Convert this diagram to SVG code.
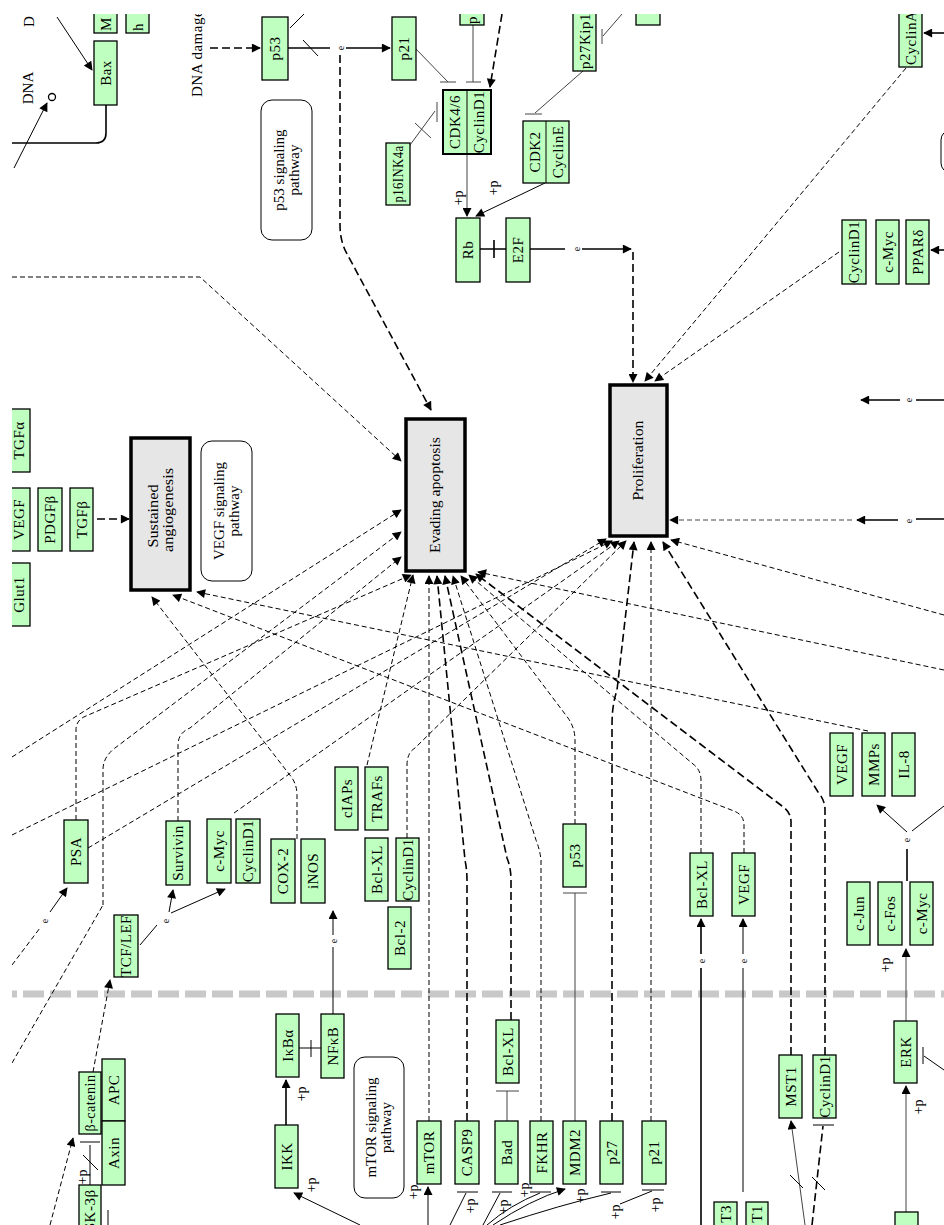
<svg xmlns="http://www.w3.org/2000/svg" width="944" height="1225" viewBox="0 0 944 1225">
<defs>
<style>
text{font-family:"Liberation Serif","DejaVu Serif",serif;font-size:15px;fill:#000}
.n text{letter-spacing:0.5px}
.n rect{fill:#bfffbf;stroke:#000;stroke-width:1.3}
.n line{stroke:#000;stroke-width:1}
.m{text-anchor:middle;dominant-baseline:central}
.st{dominant-baseline:central}
.en{text-anchor:end;dominant-baseline:central}
.p rect{fill:#e6e6e6;stroke:#000;stroke-width:3.5}
.p text{font-size:14px}
.r rect{fill:#fff;stroke:#000;stroke-width:1}
.c path{fill:none;stroke:#000;stroke-width:1}
.c .t{stroke-dasharray:5 3}
.c .k{stroke-dasharray:8 4;stroke-width:1.6}
.c .w{stroke-width:1.6}
.c .g{stroke:#444}
.lb{font-size:14px;text-anchor:middle;dominant-baseline:central}
.e{font-size:10px;text-anchor:middle;dominant-baseline:central}
</style>
<marker id="a" viewBox="0 0 10 10" refX="9" refY="5" markerWidth="10" markerHeight="9" markerUnits="userSpaceOnUse" orient="auto"><path d="M0,0L10,5L0,10z" fill="#000"/></marker>
<clipPath id="cp"><rect x="12" y="14" width="932" height="1211"/></clipPath>
</defs>
<rect width="944" height="1225" fill="#fff"/>
<g clip-path="url(#cp)">

<!-- separator -->
<path d="M12,994H944" stroke="#c8c8c8" stroke-width="7" stroke-dasharray="21 6" stroke-dashoffset="16" fill="none"/>

<!-- connectors -->
<g id="connectors" class="c">
<path d="M57,17L92,70" marker-end="url(#a)"/>
<path class="w" d="M106,105V133Q106,143 96,143H12"/>
<path d="M14,168L47,103" marker-end="url(#a)"/>
<path class="k" d="M210,48H260" marker-end="url(#a)"/>
<path class="w" d="M288,48H330"/>
<path d="M303,40L318,56M290,28L304,14"/>
<path class="w" d="M346,48H390" marker-end="url(#a)"/>
<path class="k" d="M340,55V225Q340,240 346,252L431,410" marker-end="url(#a)"/>
<path class="g" d="M415,48L448,82M440,82H456"/>
<path class="g" d="M473,25V82M466,82H481"/>
<path class="k" d="M502,14L490,87" marker-end="url(#a)"/>
<path class="g" d="M410,145L435,111M437,102V122M415,123L431,138"/>
<path class="g" d="M583,71L535,113M525,114H542"/>
<path class="g" d="M622,14L603,36M602,29V44"/>
<path class="g" d="M467,154V216" marker-end="url(#a)"/>
<path d="M545,183L476,216" marker-end="url(#a)"/>
<path class="w" d="M480,249H506M494,240V258"/>
<path class="w" d="M530,249H565"/>
<path class="w" d="M582,249H631" marker-end="url(#a)"/>
<path class="k" d="M633,252V382" marker-end="url(#a)"/>
<path class="t" d="M906,68L645,381" marker-end="url(#a)"/>
<path class="t" d="M839,252L655,381" marker-end="url(#a)"/>
<path class="w" d="M944,33H924" marker-end="url(#a)"/>
<path class="w" d="M944,250H931" marker-end="url(#a)"/>
<path class="w" d="M944,400H916M900,400H861" marker-end="url(#a)"/>
<path class="w" d="M944,519H916M898,520H857" marker-end="url(#a)"/>
<path class="t g" d="M852,520H670" marker-end="url(#a)"/>
<!-- angiogenesis -->
<path class="k" d="M97,519H129" marker-end="url(#a)"/>
<path class="t" d="M297,839V795Q297,783 289,774L152,597" marker-end="url(#a)"/>
<path class="t" d="M744,853V825Q744,815 734,811L173,595" marker-end="url(#a)"/>
<path class="t" d="M868,731L197,592" marker-end="url(#a)"/>
<!-- evading apoptosis -->
<path class="t" d="M12,277H200L401,461" marker-end="url(#a)"/>
<path class="t" d="M12,757L401,510" marker-end="url(#a)"/>
<path class="t" d="M103,905V770Q103,757 115,748L401,532" marker-end="url(#a)"/>
<path class="t" d="M12,1063L103,905"/>
<path class="t" d="M178,821V745Q178,733 190,728L401,557" marker-end="url(#a)"/>
<path class="t" d="M76,820V730Q76,720 86,716L411,575" marker-end="url(#a)"/>
<path class="t" d="M367,765L413,575" marker-end="url(#a)"/>
<path class="t" d="M429,1121V576" marker-end="url(#a)"/>
<path class="k" d="M467,1121V880Q467,870 465,860L437,576" marker-end="url(#a)"/>
<path class="k" d="M511,1020V880Q511,868 507,858L445,576" marker-end="url(#a)"/>
<path class="t" d="M541,1121V860Q540,850 536,840L453,576" marker-end="url(#a)"/>
<path class="t" d="M575,824V740Q575,728 568,718L461,576" marker-end="url(#a)"/>
<path class="t" d="M701,853V780Q701,770 693,764L469,575" marker-end="url(#a)"/>
<path class="k" d="M791,1055V822Q791,812 782,806L476,574" marker-end="url(#a)"/>
<path class="t" d="M944,670L478,572" marker-end="url(#a)"/>
<path class="g" d="M575,1121V893M563,893H587"/>
<path class="g" d="M507,1121V1091M496,1091H519"/>
<!-- proliferation -->
<path class="t" d="M88,848L606,539" marker-end="url(#a)"/>
<path class="t" d="M12,835L612,541" marker-end="url(#a)"/>
<path class="t" d="M234,813L619,541" marker-end="url(#a)"/>
<path class="t" d="M407,838V765Q407,753 415,748L626,541" marker-end="url(#a)"/>
<path class="k" d="M612,1121V725Q612,705 617,690L634,542" marker-end="url(#a)"/>
<path class="t" d="M651,1121V542" marker-end="url(#a)"/>
<path class="k" d="M825,1055V810Q825,800 818,792L663,542" marker-end="url(#a)"/>
<path class="t" d="M944,615L671,540" marker-end="url(#a)"/>
<!-- lower right -->
<path d="M907,832L877,805" marker-end="url(#a)"/>
<path d="M912,831L944,806"/>
<path class="w" d="M907,849V881"/>
<path class="g" d="M906,1021V949" marker-end="url(#a)"/>
<path class="g" d="M906,1212V1086" marker-end="url(#a)"/>
<path d="M923,1047V1064M924,1056L944,1070"/>
<path class="g" d="M805,1225L791,1121" marker-end="url(#a)"/>
<path d="M790,1175L803,1188"/>
<path class="k" d="M812,1225L823,1126"/>
<path d="M813,1125H834M812,1177L825,1190"/>
<path class="w" d="M701,1225V968M701,954V919" marker-end="url(#a)"/>
<path d="M743,1192V968M743,954V919" marker-end="url(#a)"/>
<path d="M620,1204L652,1191M642,1190H664"/>
<!-- lower left -->
<path d="M428,1225V1187" marker-end="url(#a)"/>
<path d="M450,1225L466,1193M457,1192H478"/>
<path d="M483,1225L500,1193M492,1192H512"/>
<path d="M487,1225Q510,1205 540,1193M530,1192H551"/>
<path d="M493,1225Q530,1200 565,1189" marker-end="url(#a)"/>
<path d="M500,1225Q560,1205 611,1193M601,1192H621"/>
<path d="M360,1225L294,1193" marker-end="url(#a)"/>
<path class="w" d="M286,1125V1080" marker-end="url(#a)"/>
<path d="M299,1048H321M311,1040V1057"/>
<path d="M333,1014V947M333,935V911" marker-end="url(#a)"/>
<path class="t" d="M93,1072L110,980" marker-end="url(#a)"/>
<path d="M140,945L157,925"/>
<path d="M169,912L173,890" marker-end="url(#a)"/>
<path d="M171,913L225,889" marker-end="url(#a)"/>
<path class="t" d="M12,965L40,928"/>
<path d="M50,912L67,888" marker-end="url(#a)"/>
<path class="t" d="M50,1225L73,1138" marker-end="url(#a)"/>
<path d="M90,1185V1145M80,1142H100M83,1155L98,1170"/>
<path d="M108,1210V1225"/>
</g>

<!-- labels -->
<g id="labels">
<text x="29" y="27" class="st" transform="rotate(-90 29 27)">D</text>
<text x="28" y="88" class="m" transform="rotate(-90 28 88)">DNA</text>
<circle cx="52" cy="97" r="3.5" fill="none" stroke="#000" stroke-width="1.3"/>
<text x="197" y="97" class="st" transform="rotate(-90 197 97)" style="letter-spacing:0.5px">DNA damage</text>
<text x="340" y="48" class="e" transform="rotate(-90 340 48)">e</text>
<text x="576" y="249" class="e" transform="rotate(-90 576 249)">e</text>
<text x="908" y="400" class="e" transform="rotate(-90 908 400)">e</text>
<text x="908" y="521" class="e" transform="rotate(-90 908 521)">e</text>
<text x="906" y="840" class="e" transform="rotate(-90 906 840)">e</text>
<text x="701" y="961" class="e" transform="rotate(-90 701 961)">e</text>
<text x="743" y="961" class="e" transform="rotate(-90 743 961)">e</text>
<text x="333" y="941" class="e" transform="rotate(-90 333 941)">e</text>
<text x="165" y="921" class="e" transform="rotate(-90 165 921)">e</text>
<text x="44" y="921" class="e" transform="rotate(-90 44 921)">e</text>
<text x="458" y="198" class="lb" transform="rotate(-90 458 198)">+p</text>
<text x="493" y="188" class="lb" transform="rotate(-90 493 188)">+p</text>
<text x="885" y="965" class="lb" transform="rotate(-90 885 965)">+p</text>
<text x="918" y="1107" class="lb" transform="rotate(-90 918 1107)">+p</text>
<text x="655" y="1205" class="lb" transform="rotate(-90 655 1205)">+p</text>
<text x="301" y="1094" class="lb" transform="rotate(-90 301 1094)">+p</text>
<text x="311" y="1185" class="lb" transform="rotate(-90 311 1185)">+p</text>
<text x="413" y="1192" class="lb" transform="rotate(-90 413 1192)">+p</text>
<text x="470" y="1206" class="lb" transform="rotate(-90 470 1206)">+p</text>
<text x="503" y="1207" class="lb" transform="rotate(-90 503 1207)">+p</text>
<text x="524" y="1190" class="lb" transform="rotate(-90 524 1190)">+p</text>
<text x="580" y="1196" class="lb" transform="rotate(-90 580 1196)">+p</text>
<text x="615" y="1212" class="lb" transform="rotate(-90 615 1212)">+p</text>
<text x="82" y="1177" class="lb" transform="rotate(-90 82 1177)">+p</text>
</g>

<!-- process boxes -->
<g id="evading" class="p"><rect x="406" y="419" width="59" height="152"/><text x="435.5" y="495" class="m" transform="rotate(-90 435.5 495)" textLength="116" lengthAdjust="spacingAndGlyphs">Evading apoptosis</text></g>
<g id="prolif" class="p"><rect x="610" y="385" width="57" height="151"/><text x="638.5" y="460.5" class="m" transform="rotate(-90 638.5 460.5)" textLength="80" lengthAdjust="spacingAndGlyphs">Proliferation</text></g>
<g id="angio" class="p"><rect x="131" y="438" width="59" height="152"/><text x="153" y="516" class="m" transform="rotate(-90 153 516)" textLength="63" lengthAdjust="spacingAndGlyphs">Sustained</text><text x="168" y="510" class="m" transform="rotate(-90 168 510)" textLength="84" lengthAdjust="spacingAndGlyphs">angiogenesis</text></g>

<g id="p53path" class="r"><rect x="261" y="100" width="51" height="140" rx="11"/><text x="279" y="170" class="m" transform="rotate(-90 279 170)">p53 signaling</text><text x="294" y="170" class="m" transform="rotate(-90 294 170)">pathway</text></g>
<g id="vegfpath" class="r"><rect x="201" y="441" width="51" height="140" rx="11"/><text x="219" y="511" class="m" transform="rotate(-90 219 511)">VEGF signaling</text><text x="234" y="511" class="m" transform="rotate(-90 234 511)">pathway</text></g>
<g id="mtorpath" class="r"><rect x="354" y="1057" width="50" height="141" rx="11"/><text x="371" y="1127.5" class="m" transform="rotate(-90 371 1127.5)">mTOR signaling</text><text x="386" y="1127.5" class="m" transform="rotate(-90 386 1127.5)">pathway</text></g>
<g id="rpart" class="r"><rect x="941" y="130" width="30" height="43" rx="10"/></g>

<!-- gene nodes -->
<g id="n_m" class="n"><rect x="94" y="5" width="23" height="28"/><text x="105.5" y="31" class="st" transform="rotate(-90 105.5 31)">M</text></g>
<g id="n_h" class="n"><rect x="126" y="5" width="23" height="28"/><text x="137.5" y="31" class="st" transform="rotate(-90 137.5 31)">h</text></g>
<g id="n_bax" class="n"><rect x="94" y="41" width="23" height="64"/><text x="105.5" y="73" class="m" transform="rotate(-90 105.5 73)">Bax</text></g>
<g id="n_p53a" class="n"><rect x="262" y="17" width="26" height="63"/><text x="275" y="48.5" class="m" transform="rotate(-90 275 48.5)">p53</text></g>
<g id="n_p21a" class="n"><rect x="392" y="17" width="24" height="63"/><text x="404" y="48.5" class="m" transform="rotate(-90 404 48.5)">p21</text></g>
<g id="n_ptop" class="n"><rect x="460" y="5" width="24" height="20"/><text x="472" y="24" class="st" transform="rotate(-90 472 24)">p</text></g>
<g id="n_cdk46" class="n"><rect x="443" y="90" width="48" height="64" style="stroke-width:2"/><line x1="467" y1="90" x2="467" y2="154"/><text x="455" y="122" class="m" transform="rotate(-90 455 122)">CDK4/6</text><text x="479" y="122" class="m" transform="rotate(-90 479 122)">CyclinD1</text></g>
<g id="n_p16" class="n"><rect x="386" y="143" width="24" height="62"/><text x="398" y="174" class="m" transform="rotate(-90 398 174)" textLength="57" lengthAdjust="spacingAndGlyphs">p16INK4a</text></g>
<g id="n_cdk2" class="n"><rect x="523" y="121" width="46" height="62"/><line x1="546" y1="121" x2="546" y2="183"/><text x="534.5" y="152" class="m" transform="rotate(-90 534.5 152)">CDK2</text><text x="557.5" y="152" class="m" transform="rotate(-90 557.5 152)">CyclinE</text></g>
<g id="n_p27kip" class="n"><rect x="573" y="-5" width="23" height="76"/><text x="584.5" y="69" class="st" transform="rotate(-90 584.5 69)">p27Kip1</text></g>
<g id="n_tr" class="n"><rect x="636" y="5" width="24" height="20"/></g>
<g id="n_rb" class="n"><rect x="456" y="218" width="24" height="64"/><text x="468" y="250" class="m" transform="rotate(-90 468 250)">Rb</text></g>
<g id="n_e2f" class="n"><rect x="506" y="218" width="24" height="64"/><text x="518" y="250" class="m" transform="rotate(-90 518 250)">E2F</text></g>
<g id="n_cyca" class="n"><rect x="899" y="-5" width="23" height="72"/><text x="910.5" y="65" class="st" transform="rotate(-90 910.5 65)">CyclinA</text></g>
<g id="n_cycd1r" class="n"><rect x="842" y="220" width="24" height="64"/><text x="854" y="252" class="m" transform="rotate(-90 854 252)">CyclinD1</text></g>
<g id="n_cmycr" class="n"><rect x="876" y="220" width="23" height="64"/><text x="887.5" y="252" class="m" transform="rotate(-90 887.5 252)">c-Myc</text></g>
<g id="n_ppar" class="n"><rect x="906" y="220" width="23" height="64"/><text x="917.5" y="252" class="m" transform="rotate(-90 917.5 252)">PPARδ</text></g>
<g id="n_tgfa" class="n"><rect x="8" y="409" width="22" height="63"/><text x="19" y="440.5" class="m" transform="rotate(-90 19 440.5)">TGFα</text></g>
<g id="n_vegfl" class="n"><rect x="8" y="488" width="22" height="63"/><text x="19" y="519.5" class="m" transform="rotate(-90 19 519.5)">VEGF</text></g>
<g id="n_pdgfb" class="n"><rect x="38" y="488" width="24" height="63"/><text x="50" y="519.5" class="m" transform="rotate(-90 50 519.5)">PDGFβ</text></g>
<g id="n_tgfb" class="n"><rect x="70" y="488" width="23" height="63"/><text x="81.5" y="519.5" class="m" transform="rotate(-90 81.5 519.5)">TGFβ</text></g>
<g id="n_glut1" class="n"><rect x="8" y="563" width="22" height="63"/><text x="19" y="594.5" class="m" transform="rotate(-90 19 594.5)">Glut1</text></g>
<g id="n_psa" class="n"><rect x="64" y="820" width="24" height="63"/><text x="76" y="851.5" class="m" transform="rotate(-90 76 851.5)">PSA</text></g>
<g id="n_surv" class="n"><rect x="166" y="821" width="24" height="64"/><text x="178" y="853" class="m" transform="rotate(-90 178 853)">Survivin</text></g>
<g id="n_cmyc1" class="n"><rect x="207" y="819" width="24" height="64"/><text x="219" y="851" class="m" transform="rotate(-90 219 851)">c-Myc</text></g>
<g id="n_cycd1a" class="n"><rect x="236" y="819" width="24" height="64"/><text x="248" y="851" class="m" transform="rotate(-90 248 851)">CyclinD1</text></g>
<g id="n_cox2" class="n"><rect x="271" y="839" width="24" height="64"/><text x="283" y="871" class="m" transform="rotate(-90 283 871)">COX-2</text></g>
<g id="n_inos" class="n"><rect x="301" y="839" width="24" height="64"/><text x="313" y="871" class="m" transform="rotate(-90 313 871)">iNOS</text></g>
<g id="n_ciaps" class="n"><rect x="335" y="767" width="23" height="63"/><text x="346.5" y="798.5" class="m" transform="rotate(-90 346.5 798.5)">cIAPs</text></g>
<g id="n_trafs" class="n"><rect x="365" y="767" width="23" height="63"/><text x="376.5" y="798.5" class="m" transform="rotate(-90 376.5 798.5)">TRAFs</text></g>
<g id="n_bclxl1" class="n"><rect x="365" y="838" width="23" height="63"/><text x="376.5" y="869.5" class="m" transform="rotate(-90 376.5 869.5)">Bcl-XL</text></g>
<g id="n_cycd1b" class="n"><rect x="396" y="838" width="23" height="63"/><text x="407.5" y="869.5" class="m" transform="rotate(-90 407.5 869.5)">CyclinD1</text></g>
<g id="n_bcl2" class="n"><rect x="388" y="907" width="23" height="62"/><text x="399.5" y="938" class="m" transform="rotate(-90 399.5 938)">Bcl-2</text></g>
<g id="n_p53b" class="n"><rect x="563" y="824" width="23" height="63"/><text x="574.5" y="855.5" class="m" transform="rotate(-90 574.5 855.5)">p53</text></g>
<g id="n_bclxl2" class="n"><rect x="690" y="853" width="23" height="63"/><text x="701.5" y="884.5" class="m" transform="rotate(-90 701.5 884.5)">Bcl-XL</text></g>
<g id="n_vegf2" class="n"><rect x="732" y="853" width="23" height="63"/><text x="743.5" y="884.5" class="m" transform="rotate(-90 743.5 884.5)">VEGF</text></g>
<g id="n_vegf3" class="n"><rect x="830" y="733" width="23" height="63"/><text x="841.5" y="764.5" class="m" transform="rotate(-90 841.5 764.5)">VEGF</text></g>
<g id="n_mmps" class="n"><rect x="862" y="733" width="23" height="63"/><text x="873.5" y="764.5" class="m" transform="rotate(-90 873.5 764.5)">MMPs</text></g>
<g id="n_il8" class="n"><rect x="892" y="733" width="23" height="63"/><text x="903.5" y="764.5" class="m" transform="rotate(-90 903.5 764.5)">IL-8</text></g>
<g id="n_cjun" class="n"><rect x="847" y="882" width="23" height="63"/><text x="858.5" y="913.5" class="m" transform="rotate(-90 858.5 913.5)">c-Jun</text></g>
<g id="n_cfos" class="n"><rect x="878" y="882" width="24" height="63"/><text x="890" y="913.5" class="m" transform="rotate(-90 890 913.5)">c-Fos</text></g>
<g id="n_cmyc2" class="n"><rect x="910" y="882" width="23" height="63"/><text x="921.5" y="913.5" class="m" transform="rotate(-90 921.5 913.5)">c-Myc</text></g>
<g id="n_tcf" class="n"><rect x="114" y="915" width="24" height="62"/><text x="126" y="946" class="m" transform="rotate(-90 126 946)">TCF/LEF</text></g>
<g id="n_bcat" class="n"><rect x="79" y="1072" width="22" height="62"/><text x="90" y="1103" class="m" transform="rotate(-90 90 1103)" textLength="57" lengthAdjust="spacingAndGlyphs">β-catenin</text></g>
<g id="n_apc" class="n"><rect x="102" y="1059" width="23" height="62"/><text x="113.5" y="1090" class="m" transform="rotate(-90 113.5 1090)">APC</text></g>
<g id="n_axin" class="n"><rect x="102" y="1121" width="23" height="64"/><text x="113.5" y="1153" class="m" transform="rotate(-90 113.5 1153)">Axin</text></g>
<g id="n_gsk" class="n"><rect x="79" y="1185" width="22" height="62"/><text x="90" y="1216" class="m" transform="rotate(-90 90 1216)">GSK-3β</text></g>
<g id="n_ikba" class="n"><rect x="276" y="1014" width="23" height="63"/><text x="287.5" y="1045.5" class="m" transform="rotate(-90 287.5 1045.5)">IκBα</text></g>
<g id="n_nfkb" class="n"><rect x="321" y="1014" width="23" height="64"/><text x="332.5" y="1046" class="m" transform="rotate(-90 332.5 1046)">NFκB</text></g>
<g id="n_ikk" class="n"><rect x="275" y="1125" width="23" height="63"/><text x="286.5" y="1156.5" class="m" transform="rotate(-90 286.5 1156.5)">IKK</text></g>
<g id="n_mtor" class="n"><rect x="417" y="1121" width="24" height="63"/><text x="429" y="1152.5" class="m" transform="rotate(-90 429 1152.5)">mTOR</text></g>
<g id="n_casp9" class="n"><rect x="455" y="1121" width="24" height="63"/><text x="467" y="1152.5" class="m" transform="rotate(-90 467 1152.5)">CASP9</text></g>
<g id="n_bad" class="n"><rect x="495" y="1121" width="23" height="63"/><text x="506.5" y="1152.5" class="m" transform="rotate(-90 506.5 1152.5)">Bad</text></g>
<g id="n_bclxl3" class="n"><rect x="496" y="1020" width="23" height="63"/><text x="507.5" y="1051.5" class="m" transform="rotate(-90 507.5 1051.5)">Bcl-XL</text></g>
<g id="n_fkhr" class="n"><rect x="530" y="1121" width="23" height="63"/><text x="541.5" y="1152.5" class="m" transform="rotate(-90 541.5 1152.5)">FKHR</text></g>
<g id="n_mdm2" class="n"><rect x="563" y="1121" width="23" height="63"/><text x="574.5" y="1152.5" class="m" transform="rotate(-90 574.5 1152.5)">MDM2</text></g>
<g id="n_p27" class="n"><rect x="600" y="1121" width="23" height="63"/><text x="611.5" y="1152.5" class="m" transform="rotate(-90 611.5 1152.5)">p27</text></g>
<g id="n_p21b" class="n"><rect x="642" y="1121" width="24" height="63"/><text x="654" y="1152.5" class="m" transform="rotate(-90 654 1152.5)">p21</text></g>
<g id="n_mst1" class="n"><rect x="779" y="1055" width="23" height="63"/><text x="790.5" y="1086.5" class="m" transform="rotate(-90 790.5 1086.5)">MST1</text></g>
<g id="n_cycd1c" class="n"><rect x="813" y="1055" width="23" height="63"/><text x="824.5" y="1086.5" class="m" transform="rotate(-90 824.5 1086.5)">CyclinD1</text></g>
<g id="n_erk" class="n"><rect x="894" y="1021" width="23" height="62"/><text x="905.5" y="1052" class="m" transform="rotate(-90 905.5 1052)">ERK</text></g>
<g id="n_bot" class="n"><rect x="895" y="1212" width="23" height="30"/></g>
<g id="n_t3" class="n"><rect x="714" y="1202" width="23" height="40"/><text x="725.5" y="1205" class="en" transform="rotate(-90 725.5 1205)">T3</text></g>
<g id="n_t1" class="n"><rect x="746" y="1202" width="22" height="40"/><text x="757" y="1205" class="en" transform="rotate(-90 757 1205)">T1</text></g>
</g>
</svg>
